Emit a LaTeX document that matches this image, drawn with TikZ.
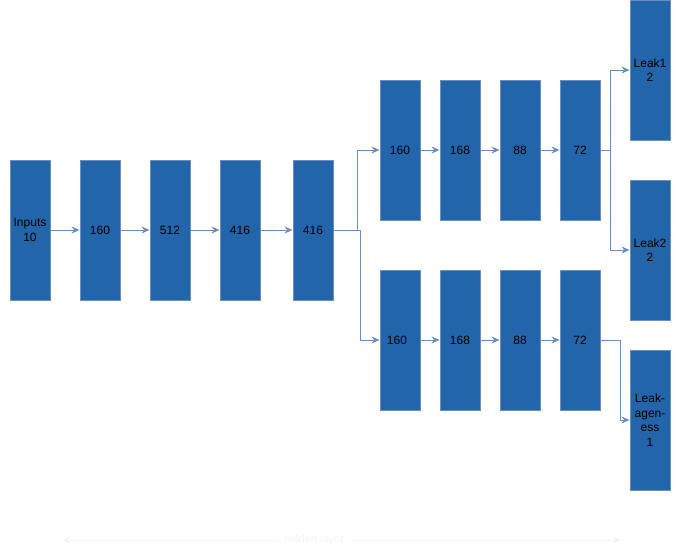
\documentclass[tikz,border=0pt]{standalone}
\usepackage{fontspec}
\setmainfont{Liberation Sans}
\usetikzlibrary{arrows.meta,positioning}
\definecolor{layer}{HTML}{2265AB}
\definecolor{edge}{HTML}{6C8EBF}
\definecolor{faint}{HTML}{F4F4F4}
\tikzset{
 unit/.style={draw=edge,fill=layer,line width=0.9pt,minimum width=40pt,minimum height=140pt,inner sep=1pt,align=center,text=black,font=\fontsize{12}{14.5}\selectfont},
 arr/.style={-{Stealth[length=8pt,width=7pt]},line width=0.9pt,draw=edge},
 hidden/.style={text=faint,inner sep=8pt,font=\fontsize{11}{13}\selectfont},
 hidarr/.style={-{Stealth[length=7pt,width=7pt]},line width=0.6pt,draw=faint}}

\begin{document}
\begin{tikzpicture}[x=1pt,y=-1pt]
\useasboundingbox (0,0) rectangle (680,556);
\node[unit] (inputs) at (30,230) {Inputs\\10};
\node[unit] (h1) at (100,230) {160};
\node[unit] (h2) at (170,230) {512};
\node[unit] (h3) at (240,230) {416};
\node[unit] (h4) at (313,230) {416};

\node[unit] (t1) at (400,150) {160};
\node[unit] (t2) at (460,150) {168};
\node[unit] (t3) at (520,150) {88};
\node[unit] (t4) at (580,150) {72};

\node[unit] (b1) at (400,340) {\hspace*{-6pt}160};
\node[unit] (b2) at (460,340) {168};
\node[unit] (b3) at (520,340) {88};
\node[unit] (b4) at (580,340) {72};

\node[unit] (leak1) at (650,70) {Leak1\\2};
\node[unit] (leak2) at (650,250) {Leak2\\2};
\node[unit] (leakage) at (650,420) {Leak-\\agen-\\ess\\1};

\draw[arr] (inputs) -- (h1);
\draw[arr] (h1) -- (h2);
\draw[arr] (h2) -- (h3);
\draw[arr] (h3) -- (h4);
\draw[arr] (h4.east) -- ++(24,0) |- (t1.west);
\draw[arr] (h4.east) -- ++(27,0) |- (b1.west);
\draw[arr] (t1) -- (t2);
\draw[arr] (t2) -- (t3);
\draw[arr] (t3) -- (t4);
\draw[arr] (b1) -- (b2);
\draw[arr] (b2) -- (b3);
\draw[arr] (b3) -- (b4);
\draw[arr] (t4.east) -- ++(10,0) |- (leak1.west);
\draw[arr] (t4.east) -- ++(10,0) |- (leak2.west);
\draw[arr] (b4.east) -- ++(20,0) |- (leakage.west);

% faint axis under the layers
\node[hidden] (hid) at (314,540) {hidden layer};
\coordinate (hl) at (63,540);
\coordinate (hr) at (620,540);
\draw[hidarr] (hid.west) -- (hl);
\draw[hidarr] (hid.east) -- (hr);
\end{tikzpicture}
\end{document}
